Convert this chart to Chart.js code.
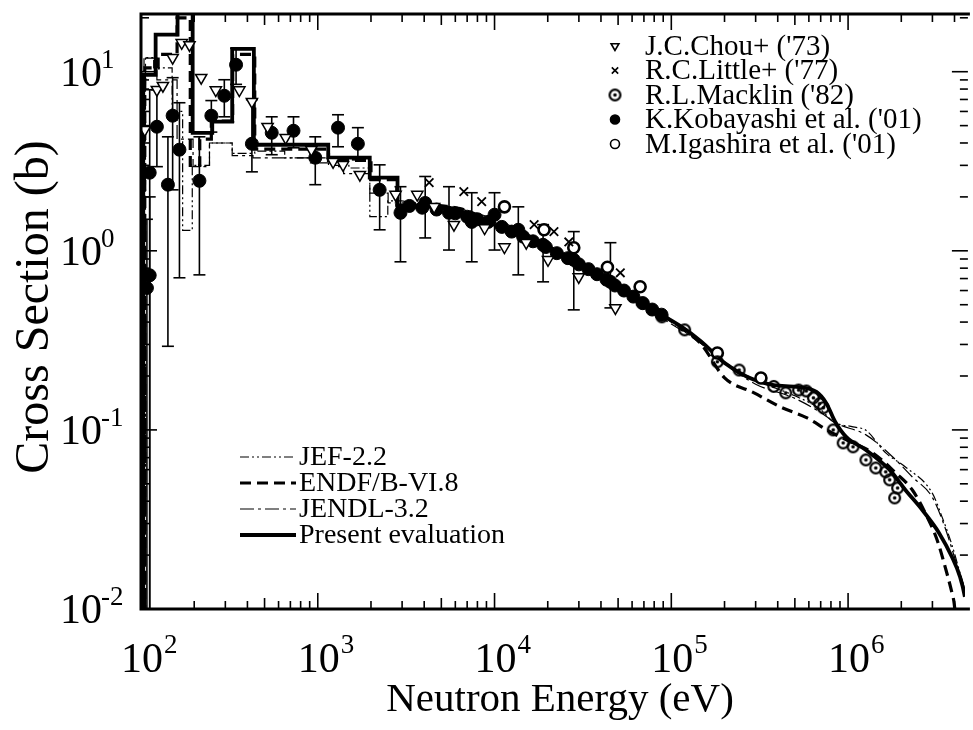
<!DOCTYPE html>
<html>
<head>
<meta charset="utf-8">
<script src="https://cdn.jsdelivr.net/npm/chart.js@4.4.1/dist/chart.umd.min.js"></script>
<style>
  html, body { margin: 0; padding: 0; background: #fff; }
  #wrap { width: 973px; height: 730px; position: relative; }
</style>
</head>
<body>
<div id="wrap"><canvas id="xsChart"></canvas></div>
<script>
/* ---------- axis ranges and tick labels ---------- */
const xMin = 100, xMax = 4.58e6;
const yMin = 0.01, yMax = 21;
const xTickExps = [2, 3, 4, 5, 6];
const yTickExps = [-2, -1, 0, 1];
const xTitle = 'Neutron Energy (eV)';
const yTitle = 'Cross Section (b)';

/* ---------- evaluations: resolved region (group start energy, averaged value) ---------- */
const presStepE = [100, 103, 121, 161, 196, 253, 328, 435, 1146, 1968, 2826, 4730];
const presStepS = [0.004, 9.6, 16.1, 24, 4.56, 5.26, 13.4, 3.91, 3.31, 2.56, 1.76, 1.76];
const endfStepE = [100, 105, 125, 160, 190, 215, 250, 330, 440, 1150, 2000, 2800, 4700];
const endfStepS = [0.004, 10.5, 12.5, 20, 3.0, 4.2, 5.3, 12.5, 3.7, 3.2, 2.5, 1.8, 1.8];
const jefStepE = [100, 104, 118, 150, 172, 195, 244, 328, 440, 650, 1150, 1500, 1970, 2490, 3000];
const jefStepS = [0.004, 12, 10.5, 6.0, 1.3, 3.0, 4.0, 3.5, 3.6, 3.3, 3.0, 2.9, 1.55, 1.9, 1.9];
const jendlStepE = [100, 106, 123, 160, 197, 244, 328, 430, 900, 1220, 1400, 1970, 2500, 3000];
const jendlStepS = [0.004, 11.9, 9.0, 4.2, 2.95, 4.0, 3.4, 3.3, 3.1, 2.95, 2.7, 2.1, 1.85, 1.85];

/* ---------- evaluations: smooth region ---------- */
const presE = [4730, 6370, 10000, 12770, 23100, 35900, 48200, 73800, 114500, 148000, 199500, 268000, 380000, 511000, 662000, 753000, 845000, 975000, 1262000, 1720000, 2110000, 2630000, 3270000, 3870000, 4300000, 4580000, 4800000];
const presS = [1.76, 1.66, 1.40, 1.26, 0.975, 0.78, 0.63, 0.486, 0.376, 0.311, 0.237, 0.198, 0.178, 0.174, 0.163, 0.141, 0.111, 0.0914, 0.0773, 0.0598, 0.0462, 0.0357, 0.0266, 0.0195, 0.0151, 0.0117, 0.0085];
const endfE = [4700, 6370, 10000, 12770, 23100, 35900, 48200, 73800, 114500, 148000, 199500, 294000, 416000, 582000, 793000, 1067000, 1380000, 1860000, 2310000, 2730000, 3190000, 3540000, 3870000, 3980000, 4100000];
const endfS = [1.8, 1.72, 1.44, 1.28, 0.99, 0.79, 0.635, 0.49, 0.37, 0.30, 0.196, 0.161, 0.134, 0.117, 0.0975, 0.0846, 0.0744, 0.0575, 0.0462, 0.0344, 0.0243, 0.0172, 0.0123, 0.0108, 0.008];
const jefE = [3000, 5000, 10000, 20000, 50000, 100000, 150000, 200000, 300000, 500000, 700000, 824000, 1067000, 1262000, 1633000, 2110000, 2990000, 3400000, 3870000, 4410000, 4800000];
const jefS = [1.9, 1.75, 1.45, 1.05, 0.62, 0.40, 0.30, 0.24, 0.19, 0.155, 0.13, 0.111, 0.104, 0.0995, 0.0744, 0.0621, 0.0445, 0.0327, 0.0228, 0.0145, 0.011];
const jendlE = [3000, 5000, 10000, 20000, 50000, 100000, 150000, 200000, 300000, 500000, 700000, 857000, 1262000, 1790000, 2310000, 2990000, 3490000, 4130000, 4580000, 4800000];
const jendlS = [1.85, 1.8, 1.5, 1.08, 0.60, 0.39, 0.30, 0.235, 0.18, 0.15, 0.125, 0.109, 0.0938, 0.0706, 0.0546, 0.0422, 0.0295, 0.0176, 0.0128, 0.0105];

/* ---------- measurements ---------- */
const chouE = [105, 123, 133, 151, 170, 188, 219, 265, 360, 424, 520, 658, 920, 1221, 1390, 1730, 2754, 3656, 4553, 5893, 8790, 11380, 15110, 20070, 29940, 48260];
const chouS = [4.74, 7.93, 8.35, 11.97, 14.5, 14.1, 9.26, 7.9, 7.9, 6.8, 4.93, 4.28, 3.67, 3.14, 3.02, 2.66, 2.06, 2.06, 1.76, 1.40, 1.34, 1.05, 1.11, 0.89, 0.715, 0.48];
const littleE = [4268, 6704, 8456, 16750, 21680, 26320, 51470];
const littleS = [2.40, 2.14, 1.88, 1.40, 1.28, 1.12, 0.754];
const macklinE = [68360, 88490, 119000, 182200, 242000, 380000, 443800, 524800, 580000, 636800, 690000, 724300, 824200, 937600, 1067000, 1261000, 1435000, 1633000, 1719000, 1906000, 1834000];
const macklinS = [0.512, 0.428, 0.362, 0.240, 0.216, 0.175, 0.161, 0.167, 0.165, 0.151, 0.14, 0.133, 0.100, 0.0846, 0.0804, 0.068, 0.0613, 0.0583, 0.0526, 0.0474, 0.0417];
const kobE = [108, 112, 112, 123, 142, 151, 165, 214, 250, 296, 345, 424, 549, 729, 968, 1302, 1686, 2239, 2937, 4053, 5525, 7432, 10000, 13630, 18820, 28070, 45240];
const kobS = [0.62, 0.73, 2.73, 4.93, 2.34, 5.68, 3.67, 2.46, 5.68, 7.34, 10.94, 3.96, 4.56, 4.68, 3.31, 4.87, 3.96, 2.19, 1.63, 1.85, 1.63, 1.45, 1.59, 1.31, 1.08, 0.89, 0.671];
const kobLo = [0.001, 0.001, 0.001, 2.95, 0.293, 2.19, 0.707, 0.734, 4.6, 5.60, 8.5, 2.76, 3.44, 3.76, 2.34, 3.81, 3.22, 1.31, 0.868, 1.18, 1.01, 0.868, 1.01, 0.734, 0.671, 0.468, 0.48];
const kobHi = [1.5, 2.0, 7.93, 7.93, 4.33, 9.26, 6.71, 4.33, 6.9, 9.02, 13.5, 6.98, 5.60, 5.60, 4.33, 5.75, 4.87, 3.02, 2.28, 2.6, 2.28, 2.11, 2.11, 1.76, 1.40, 1.28, 1.11];
// dense points along the curve (no error bars drawn)
const kobDenseE = [3300, 3900, 4700, 6000, 7000, 8000, 9200, 11000, 12500, 14500, 16500, 19500, 22500, 26000, 30000, 34000, 38000, 43000, 48000, 54000, 61000, 69000, 78000, 88000];
const kobDenseS = [1.78, 1.74, 1.70, 1.62, 1.55, 1.50, 1.45, 1.36, 1.28, 1.20, 1.13, 1.05, 0.97, 0.91, 0.84, 0.79, 0.74, 0.69, 0.64, 0.60, 0.555, 0.51, 0.47, 0.44];
const igaE = [11380, 19060, 28070, 43520, 66620, 182200, 321400];
const igaS = [1.76, 1.31, 1.04, 0.81, 0.63, 0.269, 0.195];

const markerLabels = ["J.C.Chou+ ('73)", "R.C.Little+ ('77)", "R.L.Macklin ('82)", "K.Kobayashi et al. ('01)", "M.Igashira et al. ('01)"];
const lineLabels = ['JEF-2.2', 'ENDF/B-VI.8', 'JENDL-3.2', 'Present evaluation'];

const FONT = "'Liberation Serif', 'Times New Roman', serif";

function pts(e, s) { return e.map((v, i) => ({ x: v, y: s[i] })); }

// bullseye marker for Macklin
function bullseye() {
    const c = document.createElement('canvas');
    c.width = 15; c.height = 15;
    const g = c.getContext('2d');
    g.strokeStyle = '#000'; g.lineWidth = 2.2;
    g.beginPath(); g.arc(7.5, 7.5, 5.4, 0, Math.PI * 2); g.stroke();
    g.fillStyle = '#000';
    g.beginPath(); g.arc(7.5, 7.5, 1.8, 0, Math.PI * 2); g.fill();
    return c;
}
const bullImg = bullseye();

const lineStyles = {
    jef:   { borderWidth: 1.2, borderDash: [9, 3, 2, 3, 2, 3] },
    endf:  { borderWidth: 3.2, borderDash: [11, 6] },
    jendl: { borderWidth: 1.2, borderDash: [14, 4, 3, 4] },
    pres:  { borderWidth: 3.8, borderDash: [] }
};

function lineSet(label, data, st, stepped, order) {
    return {
        label, data, showLine: true, stepped: stepped ? 'before' : false,
        cubicInterpolationMode: stepped ? 'default' : 'monotone',
        borderColor: '#000', backgroundColor: '#000',
        borderWidth: st.borderWidth, borderDash: st.borderDash,
        pointRadius: 0, order
    };
}

const markerStyles = [
    { pointStyle: 'triangle', rotation: 180, radius: 6.5, borderWidth: 1.5, fill: '#fff' },
    { pointStyle: 'crossRot', rotation: 0, radius: 6, borderWidth: 1.8, fill: '#000' },
    { pointStyle: bullImg, rotation: 0, radius: 6, borderWidth: 1, fill: '#000' },
    { pointStyle: 'circle', rotation: 0, radius: 6.5, borderWidth: 1, fill: '#000' },
    { pointStyle: 'circle', rotation: 0, radius: 5.5, borderWidth: 2.6, fill: '#fff' }
];

function markerSet(label, data, m) {
    return {
        label, data, showLine: false,
        pointStyle: m.pointStyle, pointRotation: m.rotation, pointRadius: m.radius,
        pointBorderWidth: m.borderWidth, pointBorderColor: '#000', pointBackgroundColor: m.fill,
        order: 0
    };
}

/* ---------- axes, labels, error bars, legends ---------- */
const framePlugin = {
    id: 'frame',
    beforeDatasetsDraw(chart) {
        // Kobayashi error bars
        const { ctx, chartArea: a, scales: { x, y } } = chart;
        ctx.save();
        ctx.beginPath(); ctx.rect(a.left, a.top, a.right - a.left, a.bottom - a.top); ctx.clip();
        ctx.strokeStyle = '#000'; ctx.lineWidth = 1.6;
        kobE.forEach((e, i) => {
            const px = x.getPixelForValue(e);
            const yl = y.getPixelForValue(kobLo[i]), yh = y.getPixelForValue(kobHi[i]);
            ctx.beginPath(); ctx.moveTo(px, yl); ctx.lineTo(px, yh); ctx.stroke();
            [yl, yh].forEach(py => { ctx.beginPath(); ctx.moveTo(px - 6, py); ctx.lineTo(px + 6, py); ctx.stroke(); });
        });
        ctx.restore();
    },
    afterDraw(chart) {
        const { ctx, chartArea: a, scales: { x, y } } = chart;
        ctx.save();
        ctx.strokeStyle = '#000'; ctx.fillStyle = '#000';
        // frame (right side falls outside the picture)
        ctx.lineWidth = 3;
        ctx.beginPath();
        ctx.moveTo(a.right + 5, a.top); ctx.lineTo(a.left, a.top);
        ctx.lineTo(a.left, a.bottom); ctx.lineTo(a.right + 5, a.bottom);
        ctx.stroke();

        // x ticks
        ctx.lineWidth = 1.6;
        for (let d = 2; d <= 6; d++) {
            for (let m = 1; m <= 9; m++) {
                const v = m * Math.pow(10, d);
                if (v < xMin || v > xMax) continue;
                const px = x.getPixelForValue(v);
                const len = m === 1 ? 16 : (m === 5 ? 11 : 8);
                ctx.beginPath(); ctx.moveTo(px, a.bottom); ctx.lineTo(px, a.bottom - len); ctx.stroke();
                ctx.beginPath(); ctx.moveTo(px, a.top); ctx.lineTo(px, a.top + len); ctx.stroke();
            }
        }
        // y ticks (left, and right axis just outside the picture)
        for (let d = -2; d <= 1; d++) {
            for (let m = 1; m <= 9; m++) {
                const v = m * Math.pow(10, d);
                if (v < yMin || v > yMax) continue;
                const py = y.getPixelForValue(v);
                const len = m === 1 ? 16 : 8;
                ctx.beginPath(); ctx.moveTo(a.left, py); ctx.lineTo(a.left + len, py); ctx.stroke();
                ctx.beginPath(); ctx.moveTo(a.right + 3, py); ctx.lineTo(a.right + 3 - len, py); ctx.stroke();
            }
        }

        // tick labels 10^n
        ctx.textBaseline = 'alphabetic';
        xTickExps.forEach(n => {
            const px = x.getPixelForValue(Math.pow(10, n));
            ctx.font = '42px ' + FONT; ctx.textAlign = 'right';
            ctx.fillText('10', px + 22, a.bottom + 63);
            ctx.font = '27px ' + FONT; ctx.textAlign = 'left';
            ctx.fillText(String(n), px + 23, a.bottom + 44);
        });
        yTickExps.forEach(n => {
            const py = y.getPixelForValue(Math.pow(10, n));
            ctx.font = '42px ' + FONT; ctx.textAlign = 'left';
            ctx.fillText('10', 60, py + 14);
            ctx.font = '27px ' + FONT;
            ctx.fillText(n < 0 ? '-' + Math.abs(n) : String(n), 101, py - 4);
        });

        // axis titles
        ctx.font = '41px ' + FONT; ctx.textAlign = 'center'; ctx.textBaseline = 'middle';
        ctx.fillText(xTitle, 560, 700);
        ctx.save();
        ctx.font = '48px ' + FONT;
        ctx.translate(35, 307); ctx.rotate(-Math.PI / 2);
        ctx.fillText(yTitle, 0, 0);
        ctx.restore();

        // marker legend (top right)
        ctx.font = '29px ' + FONT; ctx.textAlign = 'left'; ctx.textBaseline = 'middle';
        const legY = [46, 70.5, 95, 119.5, 144];
        markerLabels.forEach((lab, i) => {
            const m = markerStyles[i];
            ctx.fillStyle = m.fill; ctx.strokeStyle = '#000';
            Chart.helpers.drawPoint(ctx, {
                pointStyle: m.pointStyle, rotation: m.rotation,
                radius: i === 2 ? 5 : 4.5, borderWidth: m.borderWidth
            }, 615, legY[i]);
            ctx.fillStyle = '#000';
            ctx.fillText(lab, 645, legY[i] + 1);
        });

        // line legend (lower left)
        const lineY = [457, 483, 509, 535];
        const keys = ['jef', 'endf', 'jendl', 'pres'];
        ctx.font = '28px ' + FONT;
        lineLabels.forEach((lab, i) => {
            const st = lineStyles[keys[i]];
            ctx.lineWidth = st.borderWidth; ctx.setLineDash(st.borderDash);
            ctx.beginPath(); ctx.moveTo(240, lineY[i]); ctx.lineTo(296, lineY[i]); ctx.stroke();
            ctx.setLineDash([]);
            ctx.fillText(lab, 299, lineY[i] + 1);
        });
        ctx.restore();
    }
};

const datasets = [
    markerSet(markerLabels[0], pts(chouE, chouS), markerStyles[0]),
    markerSet(markerLabels[1], pts(littleE, littleS), markerStyles[1]),
    markerSet(markerLabels[2], pts(macklinE, macklinS), markerStyles[2]),
    markerSet(markerLabels[3], pts(kobE, kobS).concat(pts(kobDenseE, kobDenseS)), markerStyles[3]),
    markerSet(markerLabels[4], pts(igaE, igaS), markerStyles[4]),
    lineSet('Present evaluation', pts(presStepE, presStepS), lineStyles.pres, true, 1),
    lineSet('Present evaluation', pts(presE, presS), lineStyles.pres, false, 1),
    lineSet('ENDF/B-VI.8', pts(endfStepE, endfStepS), lineStyles.endf, true, 2),
    lineSet('ENDF/B-VI.8', pts(endfE, endfS), lineStyles.endf, false, 2),
    lineSet('JENDL-3.2', pts(jendlStepE, jendlStepS), lineStyles.jendl, true, 3),
    lineSet('JENDL-3.2', pts(jendlE, jendlS), lineStyles.jendl, false, 3),
    lineSet('JEF-2.2', pts(jefStepE, jefStepS), lineStyles.jef, true, 4),
    lineSet('JEF-2.2', pts(jefE, jefS), lineStyles.jef, false, 4)
];

new Chart(document.getElementById('xsChart'), {
    type: 'scatter',
    data: { datasets },
    options: {
        responsive: true,
        maintainAspectRatio: false,
        animation: false,
        events: [],
        layout: { padding: { left: 141, top: 14, right: 0, bottom: 121 } },
        plugins: { legend: { display: false }, tooltip: { enabled: false } },
        scales: {
            x: { type: 'logarithmic', min: xMin, max: xMax, display: false },
            y: { type: 'logarithmic', min: yMin, max: yMax, display: false }
        }
    },
    plugins: [framePlugin]
});
</script>
</body>
</html>
